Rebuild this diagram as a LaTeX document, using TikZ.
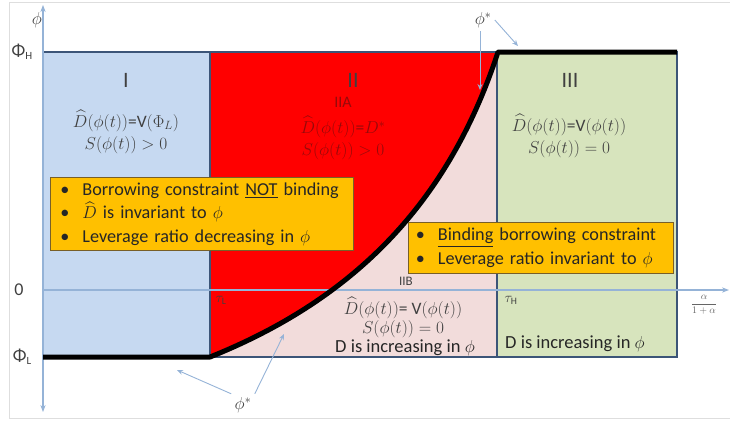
\documentclass[tikz,border=0pt]{standalone}
\usepackage{fontspec}
\setmainfont{Carlito}
\usepackage{amsmath}
\definecolor{RegionOne}{RGB}{198,217,241}
\definecolor{RegionTwoA}{RGB}{255,0,0}
\definecolor{RegionTwoB}{RGB}{242,220,219}
\definecolor{RegionThree}{RGB}{215,228,189}
\definecolor{EdgeBlue}{RGB}{60,85,120}
\definecolor{AxisBlue}{RGB}{149,179,215}
\definecolor{BoxOrange}{RGB}{255,192,0}
\definecolor{BoxEdge}{RGB}{120,95,40}
\definecolor{TextGray}{RGB}{64,64,64}
\definecolor{TextRed}{RGB}{150,10,10}
\definecolor{FrameGray}{RGB}{222,222,222}
\usetikzlibrary{arrows.meta}
\newcommand{\bline}[1]{\makebox[22pt][l]{\textbullet}#1}
\newcommand{\nohyph}{\hyphenpenalty 10000\relax}

\begin{document}
\begin{tikzpicture}[x=1pt, y=-1pt,
    regionedge/.style={draw=EdgeBlue, line width=1.1pt},
    axisline/.style={AxisBlue, line width=1.3pt},
    starlink/.style={-{Stealth[length=6pt,width=5pt]}, AxisBlue, line width=0.9pt},
    roman/.style={TextGray, font=\fontsize{22}{24}\selectfont},
    formula/.style={TextGray, font=\fontsize{17.5}{20}\selectfont, inner sep=0pt},
    plaintext/.style={text=black!85, font=\fontsize{18.5}{20}\selectfont, inner sep=0pt},
    notebox/.style={draw=BoxEdge, fill=BoxOrange, line width=0.8pt, anchor=north west, align=left,
      font=\fontsize{18.2}{23.5}\selectfont\nohyph, text=black!85, inner xsep=10pt, inner ysep=0pt},
    ticklabel/.style={TextGray, font=\fontsize{18}{20}\selectfont}]
  \useasboundingbox (0,0) rectangle (730,424);
  \draw[FrameGray, line width=0.8pt] (730,2) -- (9,2) -- (9,418) -- (730,418);
  \fill[RegionOne] (43,52) rectangle (210,357);
  \fill[RegionTwoA] (210,52) rectangle (497,357);
  \fill[RegionTwoB] (210,357) .. controls (352,300) and (448,205) .. (498,52) -- (497,357) -- cycle;
  \fill[RegionThree] (497,52) rectangle (677,357);
  \draw[regionedge] (43,52) rectangle (210,357);
  \draw[regionedge] (210,52) rectangle (497,357);
  \draw[regionedge] (497,52) rectangle (677,357);
  \draw[axisline, {Stealth[length=7pt]}-{Stealth[length=7pt]}] (43,412) -- (43,5);
  \draw[axisline, -{Stealth[length=7pt]}] (43,290) -- (729,290);
  \draw[line width=5pt, line join=round] (43,357) -- (210,357) .. controls (352,300) and (448,205) .. (498,52) -- (677,52);

  \node[ticklabel] (phiaxis) at (37,20) {$\phi$};
  \node[ticklabel] (phihigh) at (22,52) {Φ\raisebox{-3pt}{\fontsize{11}{12}\selectfont H}};
  \node[ticklabel] (zero) at (19,290) {0};
  \node[ticklabel] (philow) at (22,357) {Φ\raisebox{-3pt}{\fontsize{11}{12}\selectfont L}};
  \node[TextGray, font=\fontsize{14}{15}\selectfont] (taulow) at (221,300) {$\tau_{\mathrm{L}}$};
  \node[TextGray, font=\fontsize{14}{15}\selectfont] (tauhigh) at (511,300) {$\tau_{\mathrm{H}}$};
  \node[TextGray!80, font=\fontsize{10}{11}\selectfont] (ratio) at (704,305) {$\dfrac{\alpha}{1+\alpha}$};

  \node[roman] (one) at (126,80) {I};
  \node[roman] (two) at (353,80) {II};
  \node[roman] (three) at (570,80) {III};

  \node[formula] (onea) at (126,121) {$\widehat{D}(\phi(t))$=V$(\Phi_L)$};
  \node[formula] (oneb) at (126,145) {$S(\phi(t)) > 0$};
  \node[formula, TextRed, font=\fontsize{16}{17}\selectfont] (twoa) at (343,102) {$\mathrm{IIA}$};
  \node[formula, TextRed] (twob) at (343,127) {$\widehat{D}(\phi(t))$=$D^{*}$};
  \node[formula, TextRed] (twoc) at (343,151) {$S(\phi(t)) > 0$};
  \node[formula] (threea) at (569,125) {$\widehat{D}(\phi(t))$=V$(\phi(t))$};
  \node[formula] (threeb) at (569,149) {$S(\phi(t)) = 0$};

  \node[notebox, text width=283pt, minimum height=73pt] (slack) at (50,177)
    {\bline{Borrowing constraint \underline{NOT} binding}\\
     \bline{$\widehat{D}$ is invariant to $\phi$}\\
     \bline{Leverage ratio decreasing in $\phi$}};
  \node[notebox, text width=250pt, minimum height=51pt, inner xsep=7.5pt] (bind) at (408,222)
    {\bline{\underline{Binding} borrowing constraint}\\
     \bline{Leverage ratio invariant to $\phi$}};

  \node[formula, font=\fontsize{13}{14}\selectfont] (twobhead) at (406,281) {IIB};
  \node[formula] (twobb) at (403,308) {$\widehat{D}(\phi(t))$= V$(\phi(t))$};
  \node[formula] (twobc) at (403,329) {$S(\phi(t)) = 0$};
  \node[plaintext] (twobd) at (405,348) {D is increasing in $\phi$};
  \node[plaintext, anchor=west] (threec) at (505,344) {D is increasing in $\phi$};

  \node[TextGray, font=\fontsize{18}{20}\selectfont] (startop) at (483,20) {$\phi^{*}$};
  \node[TextGray, font=\fontsize{18}{20}\selectfont] (starbottom) at (243,405) {$\phi^{*}$};
  \coordinate (curvetop) at (480,90);
  \coordinate (flattop) at (518,46);
  \coordinate (flatlow) at (177,370);
  \coordinate (curvelow) at (284,334);
  \draw[starlink] (startop.south) ++(-3,0) -- (curvetop);
  \draw[starlink] (startop.east) -- (flattop);
  \draw[starlink] (starbottom.north west) -- (flatlow);
  \draw[starlink] (starbottom.north east) -- (curvelow);
\end{tikzpicture}
\end{document}
